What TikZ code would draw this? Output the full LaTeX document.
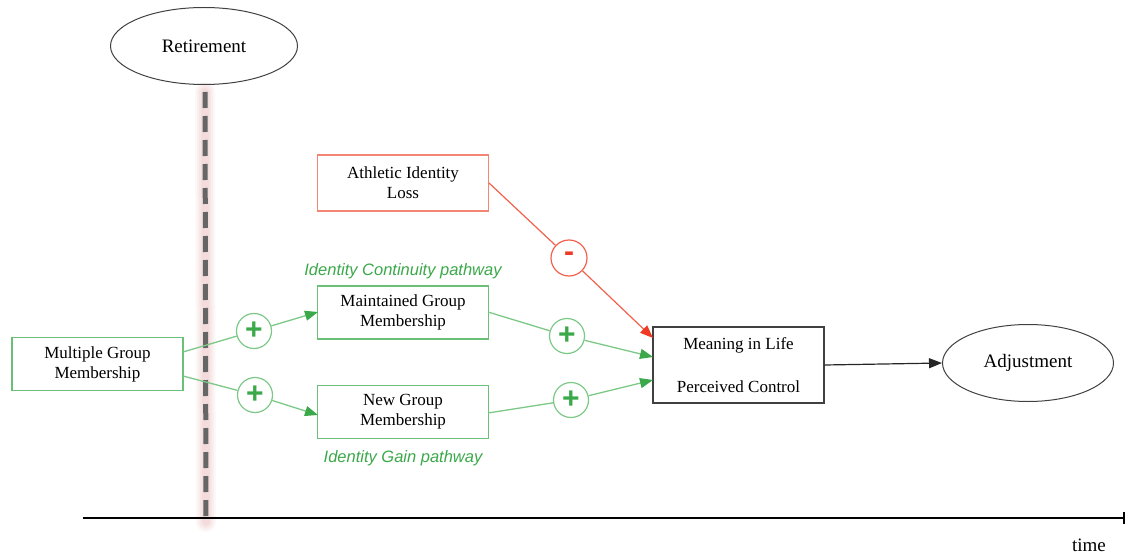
\documentclass[tikz,border=0pt]{standalone}
\usepackage{fontspec}
\setmainfont{Liberation Serif}
\newfontfamily\labfont{Liberation Sans}
\usetikzlibrary{shapes.geometric,arrows.meta}
\definecolor{gbox}{HTML}{6CBF76}
\definecolor{gline}{HTML}{7CC886}
\definecolor{gdark}{HTML}{3BA84A}
\definecolor{rbox}{HTML}{F28573}
\definecolor{rline}{HTML}{F2604E}
\definecolor{rdark}{HTML}{EE3A24}
\definecolor{glow}{HTML}{E3A5A5}
\begin{document}
\begin{tikzpicture}[x=1pt,y=-1pt,
  boxtxt/.style={font=\fontsize{17}{20}\selectfont, align=center, inner sep=0pt},
  gbx/.style={draw=gbox, line width=1.3pt, minimum width=171pt, minimum height=53pt, boxtxt},
  rbx/.style={draw=rbox, line width=1.3pt, minimum width=171pt, minimum height=56pt, boxtxt},
  kbx/.style={draw=black!75, line width=1.2pt, minimum width=171pt, minimum height=76pt, boxtxt},
  ell/.style={draw=black!75, line width=1pt, ellipse, inner sep=0pt, font=\fontsize{19}{22}\selectfont},
  gcirc/.style={circle, draw=gline, line width=1.2pt, minimum size=35pt, inner sep=0pt, text=gdark, font=\fontsize{30}{30}\selectfont\bfseries\labfont},
  rcirc/.style={circle, draw=rline, line width=1.2pt, minimum size=36pt, inner sep=0pt, text=rdark, font=\fontsize{30}{30}\selectfont\bfseries\labfont},
  gl/.style={draw=gline, line width=1.3pt},
  ga/.style={draw=gline, line width=1.3pt, -{Triangle[length=13pt,width=10pt,fill=gdark,color=gdark]}},
  ra/.style={draw=rline, line width=1.2pt, -{Triangle[length=13pt,width=10pt,fill=rdark,color=rdark]}},
  ptxt/.style={text=gdark, font=\fontsize{16.5}{20}\selectfont\labfont\itshape},
  glowline/.style={draw=glow, line cap=round}
]
\useasboundingbox (0,0) rectangle (1126,556);
% glow and dashed line
\coordinate (d0) at (205,92);
\coordinate (d1) at (206,522);
\foreach \w/\o in {20/0.08,16/0.1,12/0.12,8/0.15}
  \draw[glowline, line width=\w pt, opacity=\o] (d0) -- (d1);
\draw[black!60, line width=5pt, dash pattern=on 16pt off 8pt] (d0) -- (d1);
% timeline
\coordinate (t0) at (83,518);
\coordinate (t1) at (1125,518);
\draw[black, line width=1.3pt, -{Bar[width=12pt,line width=2pt]}] (t0) -- (t1);
\node[font=\fontsize{19}{22}\selectfont, anchor=center] (time) at (1089,545) {time};
% nodes
\node[ell, minimum width=187pt, minimum height=77pt] (ret) at (204,46) {Retirement};
\node[ell, minimum width=171pt, minimum height=77pt] (adj) at (1028,363) {Adjustment};
\node[gbx] (mgm) at (97.5,364) {Multiple Group\\Membership};
\node[gbx] (maint) at (403,312.5) {Maintained Group\\Membership};
\node[gbx] (newg) at (403,412) {New Group\\Membership};
\node[rbx] (ath) at (403,183) {Athletic Identity\\Loss};
\node[kbx, text height=0pt] (mean) at (738.5,365) {};
\node[font=\fontsize{17}{20}\selectfont] (ml) at (738.5,345) {Meaning in Life};
\node[font=\fontsize{17}{20}\selectfont] (pc) at (738.5,387) {Perceived Control};
\node[ptxt] (ctp) at (403,271) {Identity Continuity pathway};
\node[ptxt] (gtp) at (403,458) {Identity Gain pathway};
% circles
\node[gcirc] (c1) at (254,331) {+};
\node[gcirc] (c2) at (255,395) {+};
\node[gcirc] (c3) at (567,336) {+};
\node[gcirc] (c4) at (571,400) {+};
\node[rcirc] (m1) at (569,258) {\raisebox{3pt}{-}};
% connectors
\coordinate (mgmA) at (183,352);
\coordinate (mgmB) at (183,376);
\coordinate (mtA) at (318,312);
\coordinate (ngA) at (318,415);
\coordinate (mtB) at (488,312);
\coordinate (ngB) at (488,413);
\coordinate (meA) at (653,338);
\coordinate (meB) at (653,357);
\coordinate (meC) at (653,380);
\coordinate (athB) at (489,183);
\draw[gl] (mgmA) -- (c1);
\draw[ga] (c1) -- (mtA);
\draw[gl] (mgmB) -- (c2);
\draw[ga] (c2) -- (ngA);
\draw[gl] (mtB) -- (c3);
\draw[ga] (c3) -- (meB);
\draw[gl] (ngB) -- (c4);
\draw[ga] (c4) -- (meC);
\draw[draw=rline, line width=1.2pt] (athB) -- (m1);
\draw[ra] (m1) -- (meA);
\draw[black!85, line width=1.2pt, -{Triangle[length=13pt,width=10pt]}] (mean.east) -- (adj.west);
\end{tikzpicture}
\end{document}
